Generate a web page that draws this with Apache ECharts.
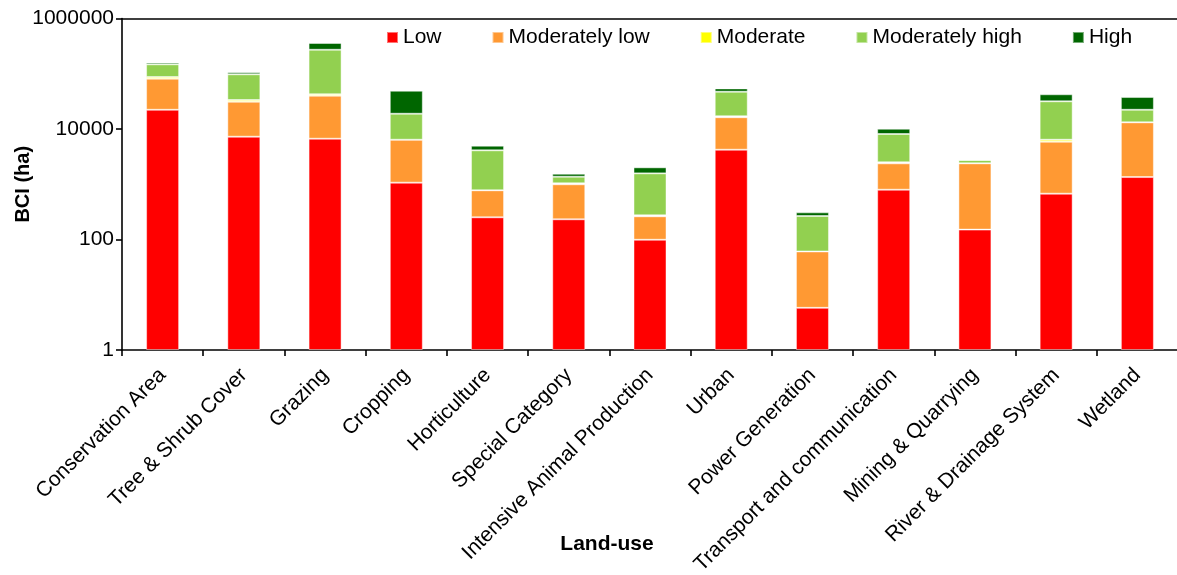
<!DOCTYPE html>
<html>
<head>
<meta charset="utf-8">
<script src="https://cdn.jsdelivr.net/npm/echarts@6/dist/echarts.min.js"></script>
<style>
  html, body { margin: 0; padding: 0; background: #fff; }
  #chart { width: 1177px; height: 575px; }
</style>
</head>
<body>
<div id="chart"></div>
<script>
// Land-use categories
const categories = [
  'Conservation Area', 'Tree & Shrub Cover', 'Grazing', 'Cropping', 'Horticulture',
  'Special Category', 'Intensive Animal Production', 'Urban', 'Power Generation',
  'Transport and communication', 'Mining & Quarrying', 'River & Drainage System', 'Wetland'
];

// BCI area (ha) per class, stacked
const low           = [22300, 7260, 6680, 1070, 252, 232, 99, 4220, 5.8, 797, 151, 676, 1350];
const moderatelyLow = [59200, 23900, 33400, 5330, 525, 766, 164, 12100, 55, 1590, 2240, 5210, 11850];
const moderate      = [5900, 2300, 2400, 0, 0, 42, 11, 700, 0, 110, 0, 510, 0];
const moderatelyHigh= [60600, 64200, 229500, 12500, 3330, 330, 1300, 30300, 205, 5620, 360, 25300, 9100];
const high          = [11000, 8300, 88000, 30400, 880, 180, 450, 7000, 44, 2000, 0, 10800, 15600];

// y-axis tick values (powers of ten)
const yTicks = [1, 100, 10000, 1000000];

const seriesDefs = [
  { name: 'Low', data: low, color: '#FF0000' },
  { name: 'Moderately low', data: moderatelyLow, color: '#FF9933' },
  { name: 'Moderate', data: moderate, color: '#FFFF00' },
  { name: 'Moderately high', data: moderatelyHigh, color: '#92D050' },
  { name: 'High', data: high, color: '#006600' }
];

const FONT = '"Liberation Sans", Arial, sans-serif';

const chart = echarts.init(document.getElementById('chart'), null, { renderer: 'canvas' });

chart.setOption({
  animation: false,
  textStyle: { fontFamily: FONT, color: '#000' },
  title: {
    text: 'Land-use',
    left: 607,
    textAlign: 'center',
    top: 534,
    padding: 0,
    textStyle: { fontFamily: FONT, fontSize: 21, fontWeight: 'bold', color: '#000' }
  },
  legend: {
    left: 381,
    top: 22,
    padding: 5,
    itemWidth: 11,
    itemHeight: 11,
    itemGap: 50,
    icon: 'rect',
    textStyle: { fontFamily: FONT, fontSize: 21, color: '#000' },
    data: seriesDefs.map(s => s.name)
  },
  grid: {
    left: 122, top: 18.5, width: 1056, height: 331.5,
    containLabel: false, outerBoundsMode: 'none'
  },
  xAxis: [
    {
      type: 'category',
      data: categories,
      position: 'bottom',
      axisLine: { lineStyle: { color: '#000', width: 1.6 } },
      axisTick: { show: true, alignWithLabel: false, length: 6, lineStyle: { color: '#000', width: 1.6 } },
      axisLabel: {
        interval: 0, rotate: 45, margin: 22,
        fontFamily: FONT, fontSize: 21, color: '#000'
      }
    },
    {
      type: 'category',
      data: categories,
      position: 'top',
      axisLine: { lineStyle: { color: '#000', width: 1.6 } },
      axisTick: { show: false },
      axisLabel: { show: false }
    }
  ],
  yAxis: {
    type: 'log',
    logBase: 10,
    min: yTicks[0],
    max: yTicks[yTicks.length - 1],
    interval: 2,
    name: 'BCI (ha)',
    nameLocation: 'middle',
    nameRotate: 90,
    nameGap: 89,
    nameMoveOverlap: false,
    nameTextStyle: { fontFamily: FONT, fontSize: 20, fontWeight: 'bold', color: '#000' },
    splitLine: { show: false },
    axisLine: { show: true, lineStyle: { color: '#000', width: 1.6 } },
    axisTick: { show: true, length: 6, lineStyle: { color: '#000', width: 1.6 } },
    axisLabel: {
      fontFamily: FONT, fontSize: 21, color: '#000', margin: 8,
      formatter: v => String(Math.round(v))
    }
  },
  series: seriesDefs.map(s => ({
    name: s.name,
    type: 'bar',
    stack: 'bci',
    barWidth: 33,
    data: s.data,
    itemStyle: { color: s.color, borderColor: 'rgba(255,255,255,0.45)', borderWidth: 1 }
  }))
});
</script>
</body>
</html>
